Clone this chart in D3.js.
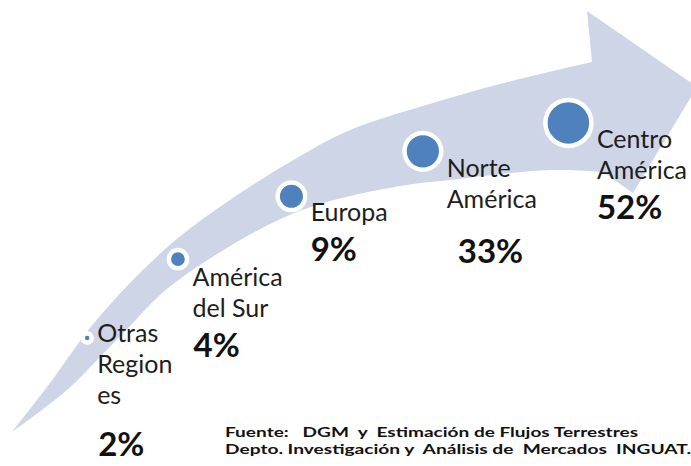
<!DOCTYPE html>
<html>
<head>
<meta charset="utf-8">
<script src="https://cdn.jsdelivr.net/npm/d3@7"></script>
<style>
  body { margin: 0; background: #fff; }
  text { font-family: Lato, "Open Sans", sans-serif; }
</style>
</head>
<body>
<svg class="visSVG"></svg>
<script>
// data
const categories = ["Otras Regiones", "América del Sur", "Europa", "Norte América", "Centro América"];
const labelLines = [["Otras", "Region", "es"], ["América", "del Sur"], ["Europa"], ["Norte", "América"], ["Centro", "América"]];
const shares = [2, 4, 9, 33, 52];
const shareLabels = ["2%", "4%", "9%", "33%", "52%"];
const sourceLines = [
    "Fuente:   DGM  y  Estimación de Flujos Terrestres",
    "Depto. Investigación y  Análisis de  Mercados  INGUAT."
];

const svgWidth = 691;
const svgHeight = 466;

const svg = d3.select('.visSVG')
    .attr("width", svgWidth)
    .attr("height", svgHeight);

const curve = d3.line().curve(d3.curveCatmullRom.alpha(0.5));

// ARROW (decoration)
var upperEdge = [[12,432],[50,383],[90,328],[130,283],[178,238],[230,200],[290,162],[350,130],[423,106],[500,84],[592,62]];
var headPts = [[587,11],[697,87],[633,193],[603,172]];
var lowerEdge = [[603,172],[550,170],[450,180],[400,186],[320,204],[270,224],[200,265],[160,295],[130,326],[100,357],[67,390],[12,432]];

var arrowD = curve(upperEdge)
    + headPts.map(function(p) { return "L" + p[0] + "," + p[1]; }).join("")
    + curve(lowerEdge).replace(/^M/, "L") + "Z";

svg.append("path")
    .attr("d", arrowD)
    .attr("fill", "#cdd5e6");

// track the markers sit on
var trackPts = [[20,420],[130,295],[290,197],[460,142],[650,112]];
var track = svg.append("path")
    .attr("d", curve(trackPts))
    .attr("fill", "none")
    .attr("stroke", "none")
    .node();

// MARKERS
var ring = 4.5;
var gap = 98;
var startLen = 106;

var rScale = d3.scaleLinear()
    .domain([0, categories.length - 1])
    .range([4.5, 23]);

var data = [];
var along = startLen;
categories.forEach(function(c, i) {
    if (i > 0) along += rScale(i - 1) + rScale(i) + 2 * ring + gap;
    var p = track.getPointAtLength(along);
    data.push({ name: c, lines: labelLines[i], value: shares[i], label: shareLabels[i], r: rScale(i), x: p.x, y: p.y });
});

svg.append("g")
    .selectAll("circle")
    .data(data).enter().append("circle")
        .attr("cx", function(d) { return d.x; })
        .attr("cy", function(d) { return d.y; })
        .attr("r", function(d) { return d.r; })
        .attr("fill", "#4f81bd")
        .attr("stroke", "#fff")
        .attr("stroke-width", ring);

// LABELS
var labelTop = [4, 27, 25, 26, 25];   // first baseline below circle centre
var pctGap = [52, 40, 40, 55, 40];    // last name line -> percentage baseline
var pctDx = [1, 1, 0, 11, 0];
var lineStep = 31;

var labels = svg.append("g").selectAll("g")
    .data(data).enter().append("g")
        .attr("transform", function(d) { return "translate(" + (d.x + d.r + ring + 1) + "," + d.y + ")"; });

labels.each(function(d, i) {
    var g = d3.select(this);
    var y0 = labelTop[i];
    d.lines.forEach(function(t, k) {
        g.append("text")
            .attr("y", y0 + k * lineStep)
            .attr("font-size", 25)
            .attr("fill", "#1d1d1d")
            .text(t);
    });
    g.append("text")
        .attr("x", pctDx[i])
        .attr("y", y0 + (d.lines.length - 1) * lineStep + pctGap[i])
        .attr("font-size", 33)
        .attr("font-weight", "bold")
        .attr("fill", "#111")
        .text(d.label);
});

// SOURCE
var sourceWidths = [413, 466];
svg.append("g").selectAll("text")
    .data(sourceLines).enter().append("text")
        .attr("x", 225)
        .attr("y", function(d, i) { return 437 + i * 17; })
        .attr("font-size", 13.5)
        .attr("font-weight", "bold")
        .attr("fill", "#111")
        .style("white-space", "pre")
        .attr("textLength", function(d, i) { return sourceWidths[i]; })
        .attr("lengthAdjust", "spacingAndGlyphs")
        .text(function(d) { return d; });
</script>
</body>
</html>
